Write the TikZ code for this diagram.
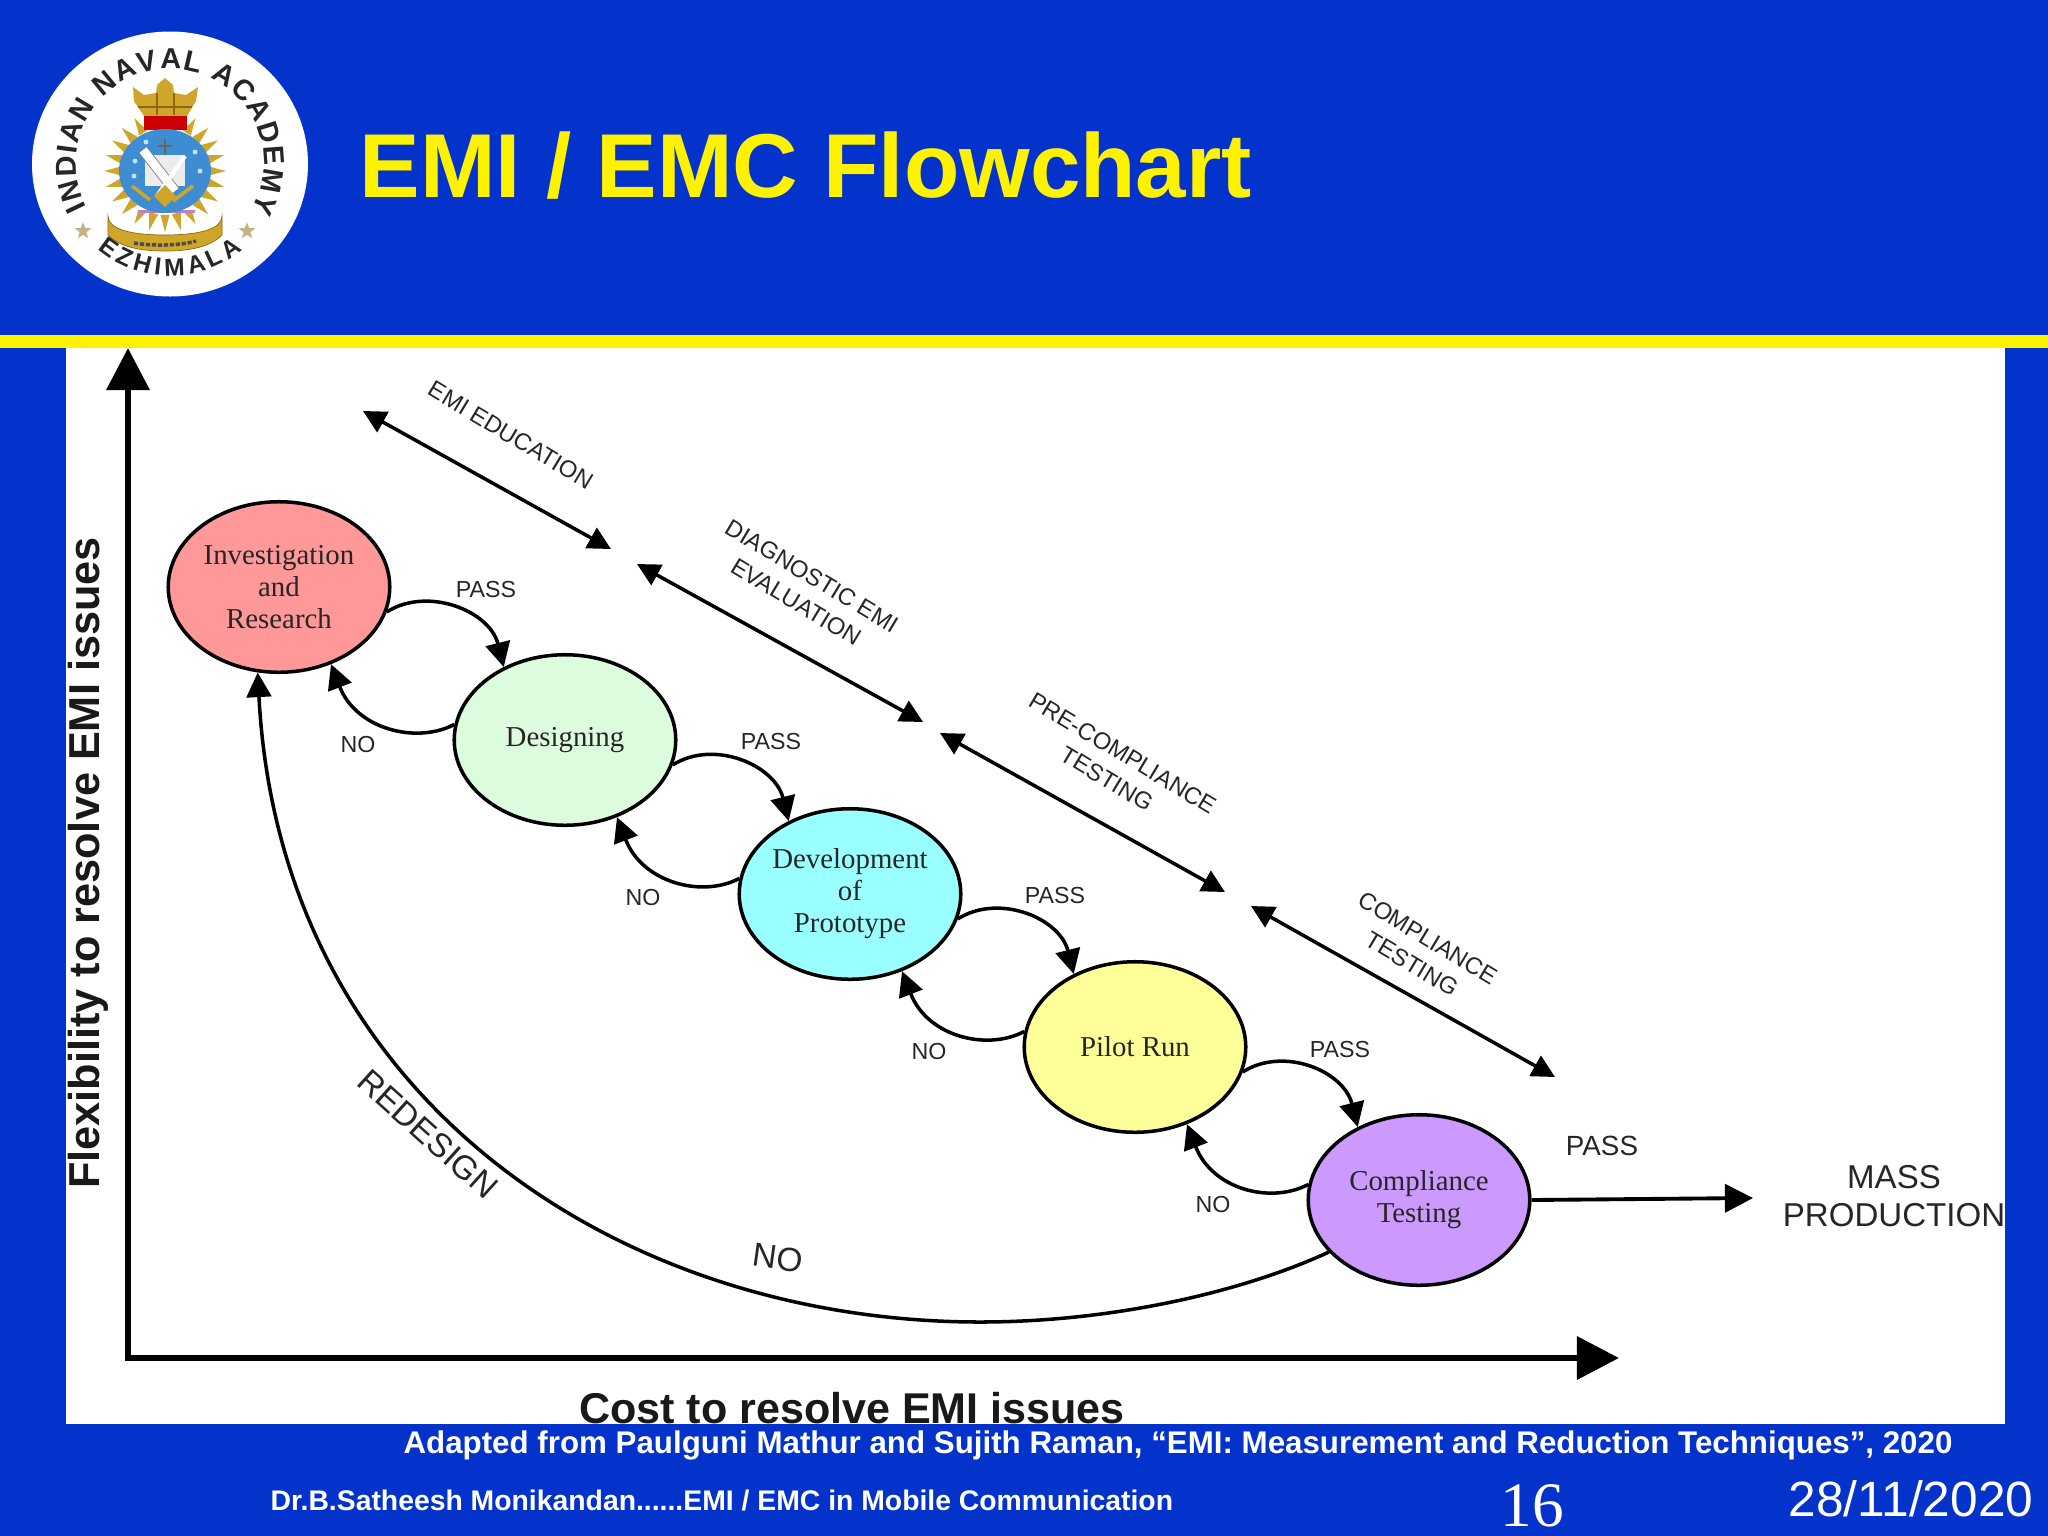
\documentclass[tikz,border=0pt]{standalone}
\usepackage{fontspec}
\setmainfont{Liberation Sans}
\newfontfamily\serifnode{Liberation Serif}
\usetikzlibrary{arrows.meta,shapes.geometric,decorations.text}
\definecolor{slideblue}{HTML}{0433CC}
\definecolor{gold}{HTML}{CFA52A}
\definecolor{darkgold}{HTML}{8A6A12}
\definecolor{stagea}{HTML}{FF9999}
\definecolor{stageb}{HTML}{DDFCDD}
\definecolor{stagec}{HTML}{99FFFF}
\definecolor{staged}{HTML}{FFFF99}
\definecolor{stagee}{HTML}{CC99FF}
\newcommand{\fs}[2]{\fontsize{#1}{#2}\selectfont}
\tikzset{
  stage/.style={ellipse,draw=black,line width=1pt,minimum width=63pt,minimum height=48.5pt,inner sep=0pt,align=center,font=\serifnode\fs{8.2}{9.1},text=black!85},
  lab/.style={font=\fs{6.6}{8},text=black!85,inner sep=0pt},
  rangelab/.style={font=\fs{6.75}{8.6},text=black!85,inner sep=0pt,align=center,rotate=-31},
  flow/.style={line width=1pt,-{Triangle[length=7pt,width=7pt]}},
  spanarrow/.style={line width=1pt,{Triangle[length=6.5pt,width=6.5pt]}-{Triangle[length=6.5pt,width=6.5pt]}},
  axisline/.style={line width=1.9pt,-{Triangle[length=12pt,width=12pt]}},
  foot/.style={font=\bfseries\fs{8.9}{10},text=white,inner sep=0pt}
}
\begin{document}
\begin{tikzpicture}[x=0.01cm,y=-0.01cm]
\useasboundingbox (0,0) rectangle (2048,1536);
\fill[slideblue] (0,0) rectangle (2048,1536);
\fill[white] (66,347) rectangle (2005,1424);
\fill[yellow] (0,335) rectangle (2048,348);

% logo
\begin{scope}[shift={(170,163)},x=0.01cm,y=0.01cm]
\fill[white] (0,-1) ellipse[x radius=138,y radius=132.5];
\foreach \a in {0,15,...,345}{
  \fill[gold] ([shift={(-5,-8)}]\a:61) -- ([shift={(-5,-8)}]\a+6:44) -- ([shift={(-5,-8)}]\a-6:44) -- cycle;
}
\fill[gold,draw=darkgold,line width=.2pt] (-62,-53) .. controls (-62,-66) and (-40,-72) .. (-5,-72) .. controls (30,-72) and (52,-66) .. (52,-53) -- (52,-72) .. controls (40,-84) and (20,-88) .. (-5,-88) .. controls (-30,-88) and (-50,-84) .. (-62,-72) -- cycle;
\draw[black!70,line width=1pt,dash pattern=on 1.2pt off .5pt] (-36,-80) .. controls (-20,-83) and (10,-83) .. (26,-78);
\fill[gold] (-26,47) -- (-36,62) -- (-37,76) -- (-26,68) -- (-14,70) -- (-13,78) -- (-5,85) -- (3,78) -- (4,70) -- (16,68) -- (28,76) -- (26,62) -- (17,47) -- cycle;
\draw[darkgold,line width=.3pt] (-32,56) -- (22,56) (-13,48) -- (-13,70) (4,48) -- (4,70);
\fill[red!80!black] (-26,33) rectangle (17,47);
\fill[white] (-32,-43) rectangle (25,-50);
\fill[violet!50] (-32,-47) rectangle (25,-50);
\fill[cyan!60!blue!80] (-5,-8) ellipse[x radius=46,y radius=42];
\fill[white!85!gray] (-25,8) rectangle (15,-23);
\draw[black!60,line width=.4pt] (-5,24) -- (-5,8) (-12,17) -- (2,17);
\draw[gray,line width=3pt] (-27,13) -- (5,-28);
\draw[white,line width=2.5pt] (-27,13) -- (5,-28);
\draw[white,line width=1.2pt] (15,7) -- (-13,-33);
\draw[gold,line width=1pt] (-38,-23) -- (-20,-37) (23,-23) -- (3,-38);
\fill[gold] (-5,-22) -- (6,-33) -- (-5,-44) -- (-16,-33) -- cycle;
\foreach \p in {(-24,21),(-35,2),(-36,-13),(25,11),(30,-8)}{\fill[white!70!cyan] \p circle[radius=2.5];}
\path[decorate,decoration={text along path,text align={fit to path},text={|\bfseries\fs{8.2}{10}\color{black!85}|INDIAN NAVAL ACADEMY}}]
  (208:94) arc[start angle=208,end angle=-30,radius=94];
\path[decorate,decoration={text along path,text align={fit to path},text={|\bfseries\fs{7}{9}\color{black!85}|EZHIMALA}}]
  (230:113) arc[start angle=230,end angle=310,radius=113];
\node[star,star points=5,star point ratio=2.4,fill=gold!50!gray!70,minimum size=5pt,inner sep=0pt] (starl) at (-87,-68) {};
\node[star,star points=5,star point ratio=2.4,fill=gold!50!gray!70,minimum size=5pt,inner sep=0pt] (starr) at (77,-68) {};
\end{scope}

\node[anchor=west,font=\bfseries\fs{25.8}{30},text=yellow,inner sep=0pt] (title) at (359,166) {EMI / EMC Flowchart};

% axes
\coordinate (o) at (128,1358);
\coordinate (ytop) at (128,348);
\coordinate (xend) at (1619,1358);
\draw[axisline] (o) -- (ytop);
\draw[axisline] ([xshift=-.95pt]o) -- (xend);
\node[rotate=90,font=\bfseries\fs{12.3}{14},text=black!90,inner sep=0pt] (ylab) at (88,863) {Flexibility to resolve EMI issues};
\node[font=\bfseries\fs{12.25}{14},text=black!90,inner sep=0pt] (xlab) at (852,1408) {Cost to resolve EMI issues};

% stages
\node[stage,fill=stagea] (a) at (279,587) {Investigation\\and\\Research};
\node[stage,fill=stageb] (b) at (565,740) {Designing};
\node[stage,fill=stagec] (c) at (850,894) {Development\\of\\Prototype};
\node[stage,fill=staged] (d) at (1135,1047) {Pilot Run};
\node[stage,fill=stagee] (e) at (1419,1200) {Compliance\\Testing};

\foreach \s/\t in {a/b,b/c,c/d,d/e}{
  \draw[flow] (\s.-13) .. controls +(41,-26) and +(-14,-56) .. (\t.130);
  \draw[flow] (\t.172) .. controls +(-38,20) and +(25,65) .. (\s.-56);
}
\node[lab] (p1) at (486,589) {PASS};
\node[lab] (p2) at (771,741) {PASS};
\node[lab] (p3) at (1055,895) {PASS};
\node[lab] (p4) at (1340,1049) {PASS};
\node[lab] (n1) at (358,744) {NO};
\node[lab] (n2) at (643,897) {NO};
\node[lab] (n3) at (929,1051) {NO};
\node[lab] (n4) at (1213,1204) {NO};

% redesign arc
\draw[flow] (e.-150) .. controls (1240,1293) and (1110,1322) .. (980,1322) .. controls (620,1322) and (280,1100) .. (a.-104);
\node[font=\fs{9.5}{11},text=black!85,rotate=-42,inner sep=0pt] (rd) at (428,1134) {REDESIGN};
\node[font=\fs{9.5}{11},text=black!85,rotate=-8,inner sep=0pt] (no) at (778,1258) {NO};

% output
\coordinate (mp) at (1753,1198);
\draw[line width=1.1pt,-{Triangle[length=8pt,width=8pt]}] (e.east) -- (mp);
\node[font=\fs{7.9}{9},text=black!85,inner sep=0pt] (pf) at (1602,1146) {PASS};
\node[font=\fs{9.4}{10.8},text=black!85,inner sep=0pt,align=center] (mass) at (1894,1196) {MASS\\PRODUCTION};

% spans
\coordinate (r1a) at (363,411); \coordinate (r1b) at (611,549);
\coordinate (r2a) at (637,564); \coordinate (r2b) at (923,722);
\coordinate (r3a) at (940,733); \coordinate (r3b) at (1225,892);
\coordinate (r4a) at (1251,906); \coordinate (r4b) at (1555,1077);
\draw[spanarrow] (r1a) -- (r1b);
\draw[spanarrow] (r2a) -- (r2b);
\draw[spanarrow] (r3a) -- (r3b);
\draw[spanarrow] (r4a) -- (r4b);
\node[rangelab] (t1) at (511,435) {EMI EDUCATION};
\node[rangelab] (t2) at (804,589) {DIAGNOSTIC EMI\\EVALUATION};
\node[rangelab] (t3) at (1115,766) {PRE-COMPLIANCE\\TESTING};
\node[rangelab] (t4) at (1420,951) {COMPLIANCE\\TESTING};

% footer
\node[foot] (f1) at (1178,1445) {Adapted from Paulguni Mathur and Sujith Raman, “EMI: Measurement and Reduction Techniques”, 2020};
\node[foot,font=\bfseries\fs{8.06}{9},anchor=west] (f2) at (270,1500) {Dr.B.Satheesh Monikandan......EMI / EMC in Mobile Communication};
\node[text=white,inner sep=0pt,font=\serifnode\fs{18}{20}] (pg) at (1532,1506) {16};
\node[text=white,inner sep=0pt,font=\fs{14.1}{16}] (dt) at (1911,1499) {28/11/2020};
\end{tikzpicture}
\end{document}
